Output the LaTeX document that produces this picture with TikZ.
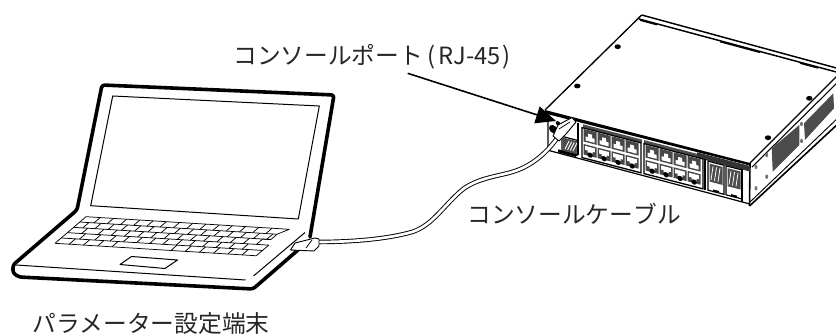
\documentclass[tikz,border=0pt]{standalone}
\usepackage{fontspec}
\setmainfont{Noto Sans CJK JP}[Kerning=Off]
\usetikzlibrary{arrows.meta}
\tikzset{
  thickline/.style={line width=2.7pt,line join=round,line cap=round},
  thinline/.style={line width=0.75pt,line join=round},
  hair/.style={line width=0.55pt,line join=round},
  caption/.style={anchor=west,inner sep=0,font=\fontsize{17.8}{20}\selectfont,text=black!85},
  screw/.style={fill=black},
}
% box in the skewed frame of the front face: {x1}{y1}{x2}{y2}
\newcommand{\facebox}[4]{(#1,#2) -- (#3,#2) -- (#3,#4) -- (#1,#4) -- cycle}
\newcommand{\rjup}[2]{%
  \fill[black!72] \facebox{#1}{#2}{#1+13}{#2+12.5};
  \fill[white] (#1+2,#2+11) -- (#1+2,#2+7) -- (#1+4.5,#2+7) -- (#1+4.5,#2+3.5) -- (#1+8.5,#2+3.5) -- (#1+8.5,#2+7) -- (#1+11,#2+7) -- (#1+11,#2+11) -- cycle;
}
\newcommand{\rjdown}[2]{%
  \fill[black!72] \facebox{#1}{#2}{#1+13}{#2+10.5};
  \fill[white] (#1+1.6,#2+1.5) -- (#1+11.4,#2+1.5) -- (#1+11.4,#2+5.5) -- (#1+9,#2+5.5) -- (#1+9,#2+7.5) -- (#1+4,#2+7.5) -- (#1+4,#2+5.5) -- (#1+1.6,#2+5.5) -- cycle;
  \fill[black] (#1+6.5,#2+9.5) circle[radius=2.6];
}
\begin{document}
\begin{tikzpicture}[x=0.75pt,y=-0.75pt]
\useasboundingbox (0,0) rectangle (836,334);

% ---------- laptop ----------
\draw[thickline,rounded corners=2pt]
  (310,237) -- (334,95) -- (102,85) -- (77,210) -- (13,265) -- (13,273) -- (19,277) -- (253,289) -- (298,250);
\draw[thinline] (112.7,96) -- (319.3,106) -- (298.3,219) -- (90.7,205.7) -- cycle;
\draw[thinline] (16,265) -- (245.5,280);
\draw[thinline] (305,232.5) -- (253.5,276);
\draw[thinline] (131.5,256.5) -- (177.5,260) -- (165,268.5) -- (120,264.5) -- cycle;
% keyboard
\begin{scope}[shift={(86,216.7)},x={(152.5pt,-9.45pt)},y={(-23.25pt,-19.95pt)}]
  \draw[hair] (0,1) -- (0,0) -- (1,0) -- (.97,.2) -- (.97,.4) -- (.93,.4) -- (.93,.6) -- (.99,.6) -- (.99,1) -- (0,1);
  \foreach \v in {.2,.4} \draw[hair] (0,\v) -- (.97,\v);
  \draw[hair] (0,.6) -- (.93,.6);
  \draw[hair] (0,.8) -- (.99,.8);
  \foreach \u in {.07,.135,.2,.265,.33,.395,.46,.525,.59,.655,.72,.785,.85,.915}
    \draw[hair] (\u,0) -- (\u,.2);
  \foreach \u in {.045,.105,.17,.235,.3,.365,.43,.495,.56,.625,.69,.755,.82,.885,.95}
    \draw[hair] (\u,.2) -- (\u,.4);
  \foreach \u in {.07,.15,.215,.28,.345,.41,.475,.54,.605,.67,.735,.8,.865}
    \draw[hair] (\u,.4) -- (\u,.6);
  \foreach \u in {.09,.165,.24,.305,.37,.435,.5,.565,.63,.695,.76,.825,.89}
    \draw[hair] (\u,.6) -- (\u,.8);
  \foreach \u in {.07,.14,.21,.28,.57,.64,.71,.78,.85,.92}
    \draw[hair] (\u,.8) -- (\u,1);
\end{scope}

% ---------- switch ----------
\draw[line width=1pt,line join=round] (641.7,15) -- (545,110);
\draw[line width=1.1pt] (641.7,15) -- (840,69);
\draw[line width=1.1pt] (639,19) -- (840,73);
\foreach \a/\b in {640/657,720/760,800/818}
  \draw[line width=0.9pt] (\a,{19+(\a-639)*.2687+1}) -- (\b,{19+(\b-639)*.2687+1});
\draw[line width=1pt] (750,163) -- (840,73);
\draw[line width=0.8pt] (752,167) -- (840,80);
\draw[line width=1.2pt] (749.5,206) -- (840,122);
\draw[line width=0.7pt] (750,202) -- (840,116);
% right side
\draw[line width=1.2pt] (750,163) -- (749.5,206);
\fill[black!70] (771.7,148.3) -- (799.3,125) -- (799.3,145) -- (772.7,171.7) -- cycle;
\fill[black!70] (804,123.3) -- (833.3,93.3) -- (834,108.3) -- (805,140) -- cycle;
\foreach \p in {(756,167),(766.7,155),(766.7,176.7),(756,188.3),(801.5,124),(801.5,141)}
  \fill[black!55] \p circle[x radius=1.5,y radius=2.2];
\foreach \p in {(617.7,46.7),(577.3,86),(809.3,98.3),(768,137.7)}
  \fill[screw] \p circle[x radius=3.2,y radius=2.4];

% front face: local frame follows the top edge
\begin{scope}[shift={(545,110)},x={(0.75pt,-0.194pt)},y={(0pt,-0.75pt)}]
  \draw[line width=0.9pt] (3,3) -- (3,39.5) -- (204,41);
  \draw[line width=0.9pt] (197,3) -- (197,41);
  \fill[black] (0,0) -- (205,0) -- (205,2.5) -- (0,3.5) -- cycle;
  \fill[black!70] \facebox{38}{4.5}{97}{7.5};
  \fill[black!70] \facebox{99}{4.5}{158}{7.5};
  \fill[black!80] \facebox{152}{3}{205}{8.5};
  % blocks of RJ-45 ports
  \foreach \b in {37,99}{
    \draw[line width=1pt] \facebox{\b}{8}{\b+59}{38};
    \foreach \i in {0,1,2,3}{
      \rjup{\b+1.5+14*\i}{9}
      \rjdown{\b+1.5+14*\i}{24}
    }
  }
  % SFP cages
  \foreach \b in {163,181}{
    \draw[line width=0.9pt] \facebox{\b}{9}{\b+16}{38};
    \fill[black!70] \facebox{\b+1.5}{11}{\b+14.5}{29};
    \foreach \k in {0,1,2}
      \draw[white,line width=0.6pt] (\b+3+3.5*\k,27) -- (\b+5+3.5*\k,13);
    \fill[black] \facebox{\b+5}{36}{\b+11}{38};
  }
  \draw[line width=1pt] (160,8) -- (160,39);
  % console corner
  \draw[line width=1pt] (33,4) -- (33,36);
  \draw[line width=0.9pt] \facebox{17}{22}{32}{37};
  \fill[black!70] \facebox{18}{23}{31}{36};
  \foreach \k in {0,1,2,3}
    \draw[white,line width=0.7pt] (20+2.6*\k,34) -- (24+2.6*\k,25);
  \fill[black] \facebox{13}{36}{31}{39};
  \fill[black] (8,17) circle[radius=4];
  \fill[black] (13,10) circle[radius=2.2];
\end{scope}

% ---------- cable ----------
\coordinate (laptopend) at (318,242);
\coordinate (switchend) at (563,129);
\draw[line width=3.4pt,black] (laptopend)
  .. controls (345,242) and (385,240) .. (413,231.7)
  .. controls (432,225) and (442,208) .. (460,191.7)
  .. controls (475,178) and (500,176) .. (513,171.7)
  .. controls (535,165) and (552,148) .. (switchend);
\draw[line width=2.0pt,white] (laptopend)
  .. controls (345,242) and (385,240) .. (413,231.7)
  .. controls (432,225) and (442,208) .. (460,191.7)
  .. controls (475,178) and (500,176) .. (513,171.7)
  .. controls (535,165) and (552,148) .. (switchend);
% console plug
\filldraw[fill=white,draw=black,line width=0.7pt,line join=round]
  (553,136) -- (558,125) -- (572,117.5) -- (576,122) -- (566,134) -- (559,141) -- cycle;
\draw[hair] (559,129) -- (570,122);
% laptop plug
\filldraw[fill=white,draw=black,line width=0.7pt,line join=round]
  (290.5,250) -- (295,243) -- (315,238) -- (319,239) -- (319,246) -- (314,251) -- cycle;
\draw[hair] (306,248) -- (312,240);

% ---------- labels ----------
\node[caption] (portlabel) at (233,57) {コンソールポート\hspace{0.18em}(\hspace{0.12em}RJ-45\hspace{0.08em})};
\node[caption] (cablelabel) at (467,214) {コンソールケーブル};
\node[caption] (pclabel) at (32,324) {パラメーター設定端末};

% ---------- pointer ----------
\coordinate (porttail) at (407.7,73.3);
\coordinate (porttip) at (556,121);
\draw[line width=1.2pt,-{Triangle[length=15,width=13]},black] (porttail) -- (porttip);
\end{tikzpicture}
\end{document}
